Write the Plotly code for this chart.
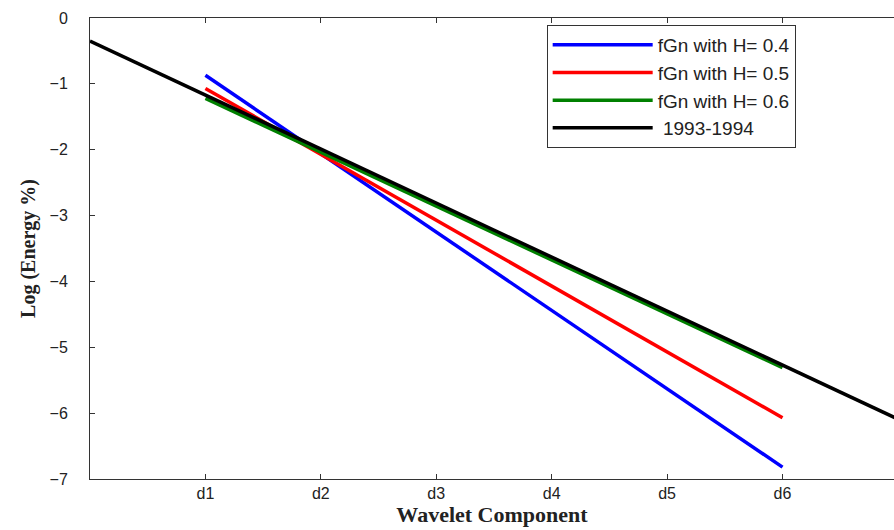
import plotly.graph_objects as go

# Data
x_fgn = [1, 6]
h04 = [-0.87, -6.82]
h05 = [-1.07, -6.07]
h06 = [-1.22, -5.31]
x_obs = [0, 7]
obs_9394 = [-0.35, -6.09]

tick_vals = [1, 2, 3, 4, 5, 6]
tick_text = ["d1", "d2", "d3", "d4", "d5", "d6"]
y_ticks = [0, -1, -2, -3, -4, -5, -6, -7]

fig = go.Figure()
fig.add_trace(go.Scatter(x=x_fgn, y=h04, mode="lines", name="fGn with H= 0.4",
                         line=dict(color="#0000ff", width=3.5)))
fig.add_trace(go.Scatter(x=x_fgn, y=h05, mode="lines", name="fGn with H= 0.5",
                         line=dict(color="#ff0000", width=3.5)))
fig.add_trace(go.Scatter(x=x_fgn, y=h06, mode="lines", name="fGn with H= 0.6",
                         line=dict(color="#008000", width=3.5)))
fig.add_trace(go.Scatter(x=x_obs, y=obs_9394, mode="lines", name=" 1993-1994",
                         line=dict(color="#000000", width=3.5)))

axis_font = dict(family="Liberation Sans, Arial", size=16, color="#222")

fig.update_layout(
    width=894, height=530,
    margin=dict(l=90, r=0, t=18, b=51),
    paper_bgcolor="white", plot_bgcolor="white",
    showlegend=True,
    legend=dict(x=0.568, y=0.985, xanchor="left", yanchor="top",
                bordercolor="#333", borderwidth=1, bgcolor="white",
                font=dict(family="Liberation Sans, Arial", size=19, color="#222"),
                itemwidth=100, tracegroupgap=5,
                entrywidth=330, entrywidthmode="pixels"),
    xaxis=dict(range=[0, 6.966], tickvals=tick_vals, ticktext=tick_text,
               ticks="inside", ticklen=5, tickcolor="#333",
               showline=True, linecolor="#333", linewidth=1, mirror="ticks",
               showgrid=False, zeroline=False, tickfont=axis_font,
               title=dict(text="<b>Wavelet Component</b>",
                          font=dict(family="Liberation Serif, Times New Roman", size=22, color="#222"),
                          standoff=2)),
    yaxis=dict(range=[-7, 0], tickvals=y_ticks,
               ticks="inside", ticklen=5, tickcolor="#333",
               showline=True, linecolor="#333", linewidth=1,
               showgrid=False, zeroline=False, tickfont=axis_font,
               ticklabelstandoff=18,
               title=dict(text="<b>Log (Energy %)</b>",
                          font=dict(family="Liberation Serif, Times New Roman", size=20, color="#222"),
                          standoff=8)),
)

fig.write_html("out.html")
